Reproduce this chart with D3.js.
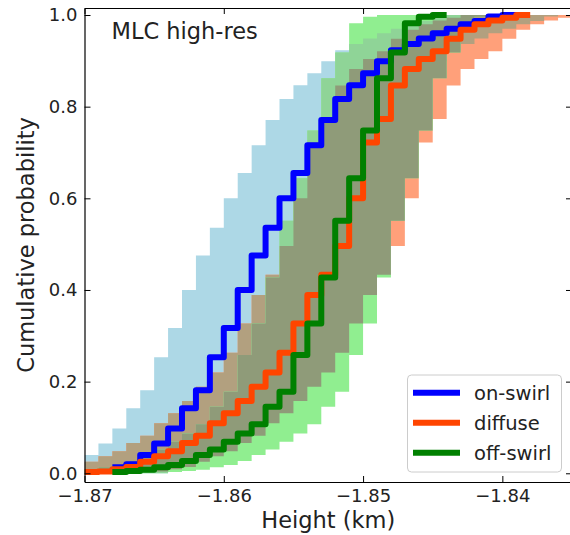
<!DOCTYPE html>
<html>
<head>
<meta charset="utf-8">
<script src="https://cdn.jsdelivr.net/npm/d3@7"></script>
<style>
  body { margin: 0; background: #fff; }
  svg { font-family: "DejaVu Sans", sans-serif; }
</style>
</head>
<body>
<svg id="chart"></svg>
<script>
// bin edges (km), 0.001 km bins
const heights = [-1.870, -1.869, -1.868, -1.867, -1.866, -1.865, -1.864, -1.863, -1.862, -1.861,
  -1.860, -1.859, -1.858, -1.857, -1.856, -1.855, -1.854, -1.853, -1.852, -1.851,
  -1.850, -1.849, -1.848, -1.847, -1.846, -1.845, -1.844, -1.843, -1.842, -1.841,
  -1.840, -1.839, -1.838, -1.837, -1.836, -1.835];

// cumulative probability per bin (null = no sample there yet / already finished)
const onSwirl = [null, null, 0.013, 0.020, 0.040, 0.065, 0.098, 0.142, 0.181, 0.253,
  0.317, 0.400, 0.475, 0.536, 0.600, 0.655, 0.716, 0.771, 0.817, 0.847,
  0.873, 0.899, 0.923, 0.937, 0.949, 0.960, 0.970, 0.980, 0.987, 0.997,
  1.000, null, null, null, null];
const diffuse = [0.003, 0.004, 0.009, 0.014, 0.025, 0.037, 0.048, 0.066, 0.082, 0.109,
  0.131, 0.158, 0.189, 0.220, 0.263, 0.327, 0.389, 0.433, 0.496, 0.600,
  0.722, 0.773, 0.846, 0.882, 0.904, 0.921, 0.948, 0.968, 0.980, 0.988,
  0.994, 1.000, null, null, null];
const offSwirl = [null, null, 0.003, 0.005, 0.008, 0.013, 0.018, 0.027, 0.040, 0.052,
  0.069, 0.087, 0.107, 0.145, 0.178, 0.258, 0.327, 0.427, 0.551, 0.644,
  0.748, 0.862, 0.918, 0.982, 0.996, 1.000, null, null, null, null,
  null, null, null, null, null];

// uncertainty band = same CDF shifted by +/- this many bins (0.004 km)
const bandBins = 4;

const xTicks = [-1.87, -1.86, -1.85, -1.84];
const yTicks = [0, 0.2, 0.4, 0.6, 0.8, 1.0];

const series = [
  { name: "on-swirl", values: onSwirl, line: "#0000ff", band: "#add8e6" },
  { name: "diffuse", values: diffuse, line: "#ff4500", band: "#ffa07a" },
  { name: "off-swirl", values: offSwirl, line: "#008000", band: "#90ee90" }
];
const mixBlueDiffuse = "#b2a07f";
const mixBlueOff = "#8fd497";
const mixDiffuseOff = "#8f9b79";

const W = 570, H = 535;
const plotL = 84.5, plotR = 572, plotT = 8, plotB = 482;

const svg = d3.select("#chart").attr("width", W).attr("height", H);

const x = d3.scaleLinear().domain([-1.87, -1.835]).range([plotL, plotR]);
const y = d3.scaleLinear().domain([-0.019, 1.0153]).range([plotB, plotT]);

const defs = svg.append("defs");
defs.append("clipPath").attr("id", "clip-plot")
  .append("rect").attr("x", plotL).attr("y", plotT)
  .attr("width", plotR - plotL).attr("height", plotB - plotT);

// cdf value at bin j, 0 before the first sample and 1 after the last
function cdfAt(values, j) {
  const first = values.findIndex(v => v !== null);
  let last = values.length - 1;
  while (values[last] === null) last--;
  if (j < first) return 0;
  if (j > last) return 1;
  return values[j];
}

const nb = heights.length - 1;
const binIdx = d3.range(nb + 1);

const bandArea = d3.area()
  .curve(d3.curveStepAfter)
  .x(k => x(heights[k]));

function bandPath(values) {
  return bandArea
    .y0(k => y(cdfAt(values, Math.min(k, nb - 1) - bandBins)))
    .y1(k => y(cdfAt(values, Math.min(k, nb - 1) + bandBins)))(binIdx);
}

series.forEach((s, i) => {
  s.bandD = bandPath(s.values);
  defs.append("clipPath").attr("id", "band-" + i).append("path").attr("d", s.bandD);
});

const plot = svg.append("g").attr("clip-path", "url(#clip-plot)");

// bands and their overlaps
plot.append("path").attr("d", series[0].bandD).attr("fill", series[0].band);
plot.append("path").attr("d", series[1].bandD).attr("fill", series[1].band);
plot.append("path").attr("d", series[1].bandD).attr("fill", mixBlueDiffuse)
  .attr("clip-path", "url(#band-0)");
plot.append("path").attr("d", series[2].bandD).attr("fill", series[2].band);
plot.append("path").attr("d", series[2].bandD).attr("fill", mixBlueOff)
  .attr("clip-path", "url(#band-0)");
plot.append("path").attr("d", series[2].bandD).attr("fill", mixDiffuseOff)
  .attr("clip-path", "url(#band-1)");

// step lines
const stepLine = d3.line().curve(d3.curveStepAfter)
  .x(d => x(d.h)).y(d => y(d.v));

series.forEach(s => {
  const pts = [];
  s.values.forEach((v, k) => {
    if (v !== null) pts.push({ h: heights[k], v: v });
  });
  let last = s.values.length - 1;
  while (s.values[last] === null) last--;
  pts.push({ h: heights[last + 1], v: s.values[last] });
  plot.append("path").datum(pts)
    .attr("d", stepLine)
    .attr("fill", "none")
    .attr("stroke", s.line)
    .attr("stroke-width", 6)
    .attr("stroke-linejoin", "round");
});

// axes
const tickLen = 6;
function styleAxis(g) {
  g.select(".domain").attr("stroke", "#000").attr("stroke-width", 1.2);
  g.selectAll(".tick line").attr("stroke", "#000").attr("stroke-width", 1);
  g.selectAll(".tick text").attr("fill", "#222").style("font-size", "18px")
    .style("font-family", "DejaVu Sans");
}

svg.append("g").attr("transform", `translate(0,${plotB})`)
  .call(d3.axisBottom(x).tickValues(xTicks).tickFormat(d3.format(".2f"))
    .tickSizeInner(-tickLen).tickSizeOuter(0).tickPadding(7))
  .call(styleAxis);
svg.append("g").attr("transform", `translate(0,${plotT})`)
  .call(d3.axisTop(x).tickValues(xTicks).tickFormat("")
    .tickSizeInner(-tickLen).tickSizeOuter(0))
  .call(styleAxis);
svg.append("g").attr("transform", `translate(${plotL},0)`)
  .call(d3.axisLeft(y).tickValues(yTicks).tickFormat(d3.format(".1f"))
    .tickSizeInner(-tickLen).tickSizeOuter(0).tickPadding(7))
  .call(styleAxis);
svg.append("g").attr("transform", `translate(${plotR},0)`)
  .call(d3.axisRight(y).tickValues(yTicks).tickFormat("")
    .tickSizeInner(-tickLen).tickSizeOuter(0))
  .call(styleAxis);

// labels
svg.append("text")
  .attr("x", (plotL + plotR) / 2).attr("y", 528)
  .attr("text-anchor", "middle").attr("fill", "#222")
  .style("font-size", "22.5px")
  .text("Height (km)");
svg.append("text")
  .attr("transform", `translate(34,${(plotT + plotB) / 2}) rotate(-90)`)
  .attr("text-anchor", "middle").attr("fill", "#222")
  .style("font-size", "22.5px")
  .text("Cumulative probability");
svg.append("text")
  .attr("x", 111.5).attr("y", 39)
  .attr("fill", "#222")
  .style("font-size", "22.5px")
  .text("MLC high-res");

// legend
const legend = svg.append("g");
legend.append("rect")
  .attr("x", 407.5).attr("y", 375).attr("width", 154).attr("height", 97)
  .attr("rx", 4).attr("fill", "#fff").attr("fill-opacity", 0.8)
  .attr("stroke", "#cccccc").attr("stroke-width", 1);
series.forEach((s, i) => {
  const ly = 392.7 + i * 30;
  legend.append("line")
    .attr("x1", 413).attr("x2", 460).attr("y1", ly).attr("y2", ly)
    .attr("stroke", s.line).attr("stroke-width", 6);
  legend.append("text")
    .attr("x", 474).attr("y", ly).attr("dy", "0.35em")
    .attr("fill", "#222").style("font-size", "19.5px")
    .text(s.name);
});
</script>
</body>
</html>
